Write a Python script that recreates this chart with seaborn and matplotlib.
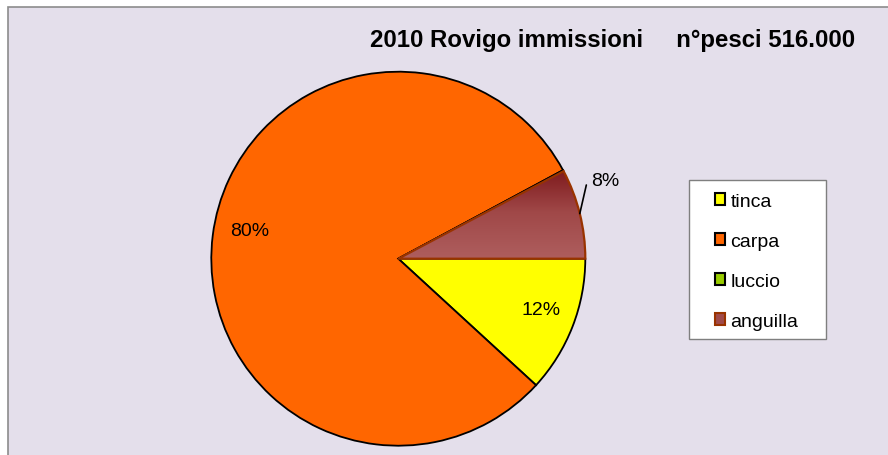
import numpy as np
import matplotlib
matplotlib.use('Agg')
import matplotlib.pyplot as plt
from matplotlib.patches import Rectangle, Patch
import seaborn as sns

# Data (total 516.000 fish)
species = ['tinca', 'carpa', 'luccio', 'anguilla']
fish = [61000, 414500, 500, 40000]
colors = ['#FFFF00', '#FF6600', '#99CC00', '#A04A4A']
title = '2010 Rovigo immissioni     n°pesci 516.000'

sns.set_style('white')
plt.rcParams['font.family'] = ['Liberation Sans', 'DejaVu Sans']
plt.rcParams['text.color'] = 'black'

W, H = 888, 456
fig = plt.figure(figsize=(W / 100, H / 100), dpi=100)
fig.patch.set_facecolor('white')

# chart area background
fig.patches.append(Rectangle((8 / W, -0.1), 1.1, 1.1 - 8 / H, transform=fig.transFigure,
                             facecolor='#E4DFEB', edgecolor='#8C8C8C', lw=1.2, zorder=-10))

# pie axes: centre (398, 260) px, radius 187 px, limits +-1.25
R = 187
cx, cy = 398.3, H - 259.7
side = R * 2.5
ax = fig.add_axes([(cx - side / 2) / W, (cy - side / 2) / H, side / W, side / H])
ax.set_facecolor('none')

def fmt(p):
    return '' if p < 1 else f'{p:.0f}%'

wedges, texts, autotexts = ax.pie(fish, colors=colors, startangle=0, counterclock=False,
                                  autopct=fmt, pctdistance=0.81,
                                  wedgeprops=dict(edgecolor='black', linewidth=1.3),
                                  textprops=dict(fontsize=14, color='black'))

# Excel-like label spots
for t, a in [(autotexts[0], -19.5), (autotexts[1], 169.4)]:
    t.set_position((0.81 * np.cos(np.deg2rad(a)), 0.81 * np.sin(np.deg2rad(a))))

# anguilla: vertical gradient, brown edge
w = wedges[3]
w.set_facecolor('none')
w.set_edgecolor('#993300')
w.set_linewidth(1.6)
w.set_zorder(3)
grad = np.linspace(0, 1, 256).reshape(-1, 1)
cmap = matplotlib.colors.LinearSegmentedColormap.from_list('ang', ['#7A1418', '#A04848', '#AE5E5E'])
im = ax.imshow(grad, cmap=cmap, extent=(0, 1, 0, 0.5), origin='upper', aspect='auto', zorder=2)
im.set_clip_path(w)

# outside label for anguilla with a leader line
mid = np.deg2rad((w.theta1 + w.theta2) / 2)
ang_lbl = np.deg2rad(21.4)
ax.plot([np.cos(mid), 1.08 * np.cos(ang_lbl)], [np.sin(mid), 1.08 * np.sin(ang_lbl)],
        color='black', lw=1.2, zorder=4, clip_on=False)
ang_txt = np.deg2rad(20.6)
autotexts[3].set_position((1.185 * np.cos(ang_txt), 1.185 * np.sin(ang_txt)))
autotexts[3].set_ha('center')

ax.set_xlim(-1.25, 1.25)
ax.set_ylim(-1.25, 1.25)
ax.set_aspect('equal')
ax.axis('off')

# title
fig.text(855 / W, 1 - 40 / H, title, ha='right', va='center', fontsize=17.3,
         fontweight='bold', color='black')

# legend with a manual frame
fig.patches.append(Rectangle((689 / W, 1 - 340 / H), 137 / W, 159 / H, transform=fig.transFigure,
                             facecolor='white', edgecolor='#7F7F7F', lw=1.0, zorder=1))
handles = [Patch(facecolor=c, edgecolor='black', lw=1.5) for c in colors[:3]]
handles.append(Patch(facecolor='#A04A4A', edgecolor='#993300', lw=1.5))
leg = fig.legend(handles, species, loc='center', bbox_to_anchor=(756.5 / W, 1 - 262.5 / H),
                 frameon=False, fontsize=14, handlelength=0.55, handleheight=0.55,
                 handletextpad=0.25, labelspacing=1.18, borderpad=0)
for t in leg.get_texts():
    t.set_color('black')

fig.savefig('out.png', dpi=100)
